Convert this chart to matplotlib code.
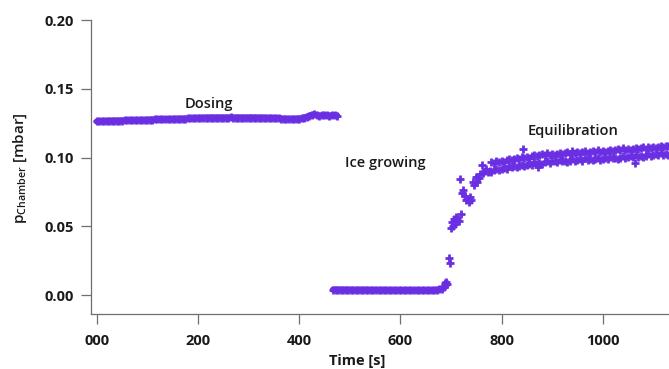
import numpy as np
import matplotlib
matplotlib.use("Agg")
import matplotlib.pyplot as plt

plt.rcParams['font.family'] = ['Open Sans', 'DejaVu Sans']
plt.rcParams['mathtext.fontset'] = 'custom'
plt.rcParams['mathtext.rm'] = 'Open Sans'

# ---- data: chamber pressure [mbar] vs time [s] ----
dose_t = np.arange(0, 476, 5)
dose_p = [0.1262, 0.1264, 0.1265, 0.1266, 0.1266, 0.1267, 0.1267, 0.1268, 0.1268, 0.1268,
          0.1269, 0.1270, 0.1270, 0.1271, 0.1271, 0.1271, 0.1272, 0.1272, 0.1273, 0.1273,
          0.1274, 0.1275, 0.1276, 0.1277, 0.1277, 0.1278, 0.1278, 0.1278, 0.1279, 0.1279,
          0.1280, 0.1281, 0.1281, 0.1282, 0.1282, 0.1283, 0.1284, 0.1285, 0.1286, 0.1287,
          0.1288, 0.1288, 0.1289, 0.1289, 0.1289, 0.1290, 0.1290, 0.1290, 0.1290, 0.1290,
          0.1290, 0.1290, 0.1290, 0.1291, 0.1290, 0.1290, 0.1290, 0.1290, 0.1290, 0.1290,
          0.1290, 0.1290, 0.1290, 0.1290, 0.1289, 0.1289, 0.1289, 0.1288, 0.1288, 0.1288,
          0.1287, 0.1286, 0.1285, 0.1283, 0.1282, 0.1281, 0.1281, 0.1281, 0.1281, 0.1282,
          0.1283, 0.1285, 0.1290, 0.1296, 0.1303, 0.1310, 0.1313, 0.1308, 0.1305, 0.1306,
          0.1307, 0.1306, 0.1305, 0.1306, 0.1308, 0.1305]

ice_t = np.arange(467, 686, 5)
ice_p = [0.0039, 0.0040, 0.0039, 0.0039, 0.0038, 0.0039, 0.0038, 0.0038, 0.0038, 0.0037,
         0.0038, 0.0037, 0.0037, 0.0038, 0.0037, 0.0037, 0.0036, 0.0037, 0.0036, 0.0036,
         0.0037, 0.0036, 0.0036, 0.0035, 0.0036, 0.0035, 0.0036, 0.0035, 0.0035, 0.0035,
         0.0036, 0.0035, 0.0034, 0.0035, 0.0034, 0.0035, 0.0034, 0.0034, 0.0035, 0.0034,
         0.0036, 0.0038, 0.0041, 0.0046]

rise_t = [686, 688, 689, 691, 692, 697, 698, 701, 703, 705, 707, 709, 711, 713, 716, 720,
          718, 724, 722, 727, 729, 732, 735, 737, 739, 743, 746, 750, 752, 755, 758, 761,
          764, 767, 770, 773, 777]
rise_p = [0.0060, 0.0085, 0.0072, 0.0097, 0.0080, 0.0270, 0.0235, 0.0485, 0.0530, 0.0505,
          0.0555, 0.0520, 0.0570, 0.0555, 0.0540, 0.0590, 0.0841, 0.0764, 0.0740, 0.0718,
          0.0690, 0.0700, 0.0676, 0.0710, 0.0690, 0.0820, 0.0800, 0.0860, 0.0825, 0.0850,
          0.0880, 0.0945, 0.0885, 0.0905, 0.0920, 0.0895, 0.0900]

eq_t = np.arange(780, 1131, 5)
eq_hi = [0.0964, 0.0959, 0.0978, 0.0969, 0.0977, 0.0970, 0.0981, 0.0991, 0.0981, 0.0990,
         0.0997, 0.0990, 0.1007, 0.0998, 0.1006, 0.0999, 0.1009, 0.1019, 0.1008, 0.1017,
         0.1023, 0.1015, 0.1031, 0.1021, 0.1028, 0.1019, 0.1028, 0.1036, 0.1024, 0.1032,
         0.1038, 0.1029, 0.1044, 0.1033, 0.1039, 0.1030, 0.1039, 0.1047, 0.1035, 0.1043,
         0.1048, 0.1039, 0.1054, 0.1043, 0.1049, 0.1040, 0.1049, 0.1057, 0.1046, 0.1054,
         0.1059, 0.1051, 0.1066, 0.1055, 0.1061, 0.1053, 0.1062, 0.1071, 0.1059, 0.1068,
         0.1073, 0.1065, 0.1080, 0.1070, 0.1076, 0.1067, 0.1076, 0.1085, 0.1073, 0.1081,
         0.1086]
eq_lo = [0.0895, 0.0908, 0.0920, 0.0910, 0.0920, 0.0927, 0.0920, 0.0937, 0.0928, 0.0935,
         0.0928, 0.0939, 0.0949, 0.0939, 0.0949, 0.0956, 0.0948, 0.0965, 0.0955, 0.0962,
         0.0954, 0.0964, 0.0973, 0.0962, 0.0971, 0.0976, 0.0967, 0.0982, 0.0971, 0.0977,
         0.0969, 0.0978, 0.0986, 0.0974, 0.0982, 0.0987, 0.0978, 0.0993, 0.0982, 0.0988,
         0.0979, 0.0988, 0.0996, 0.0984, 0.0992, 0.0997, 0.0988, 0.1003, 0.0993, 0.0999,
         0.0990, 0.1000, 0.1008, 0.0996, 0.1004, 0.1010, 0.1001, 0.1017, 0.1006, 0.1013,
         0.1004, 0.1014, 0.1022, 0.1011, 0.1019, 0.1024, 0.1015, 0.1031, 0.1020, 0.1026,
         0.1017]

stray_t = [843, 872, 1064]
stray_p = [0.1060, 0.0933, 0.0958]

x_ticks = [0, 200, 400, 600, 800, 1000]
x_tick_labels = ["000", "200", "400", "600", "800", "1000"]
y_ticks = [0.00, 0.05, 0.10, 0.15, 0.20]
y_tick_labels = ["0.00", "0.05", "0.10", "0.15", "0.20"]

phase_labels = ["Dosing", "Ice growing", "Equilibration"]
phase_pos = [(222, 0.139), (570, 0.096), (941, 0.119)]

# ---- figure ----
W, H = 669, 369
fig = plt.figure(figsize=(W / 100, H / 100), dpi=100)
ax = fig.add_axes([91 / W, (H - 314) / H, (W - 91) / W, (314 - 20) / H])

purple = '#6A2FE2'
mk = dict(marker='+', color=purple, markersize=6, markeredgewidth=2.0)

# densely sampled plateaus merge into a thick trace
for t, p in [(dose_t, dose_p), (ice_t, ice_p)]:
    ax.plot(t, p, linestyle='-', linewidth=4.5, solid_capstyle='round', **mk)
# scattered samples during growth and equilibration
for t, p in [(rise_t, rise_p), (eq_t, eq_hi), (eq_t, eq_lo), (stray_t, stray_p)]:
    ax.plot(t, p, linestyle='none', **mk)

ax.set_xlim(-11.3, 1131)
ax.set_ylim(-0.0138, 0.20)

for s in ['top', 'right']:
    ax.spines[s].set_visible(False)
axis_gray = '#6f6f6f'
for s in ['left', 'bottom']:
    ax.spines[s].set_color(axis_gray)
    ax.spines[s].set_linewidth(0.9)

ax.set_xticks(x_ticks)
ax.set_xticklabels(x_tick_labels)
ax.set_yticks(y_ticks)
ax.set_yticklabels(y_tick_labels)
ax.tick_params(axis='both', direction='out', length=7.5, width=0.9,
               color=axis_gray, labelsize=10.5, labelcolor='#1a1a1a')
ax.tick_params(axis='x', pad=7)
ax.tick_params(axis='y', pad=5)
for lab in ax.get_xticklabels() + ax.get_yticklabels():
    lab.set_fontweight('bold')

for txt, (x, y) in zip(phase_labels, phase_pos):
    ax.text(x, y, txt, ha='center', va='center', fontsize=10.5,
            fontweight='semibold', color='#1a1a1a')

fig.text(357 / W, 1 - 361 / H, "Time [s]", ha='center', va='center',
         fontsize=10.5, fontweight='bold', color='#1a1a1a')
fig.text(20 / W, 1 - 168 / H, r"$\mathregular{p_{Chamber}}$ [mbar]",
         rotation=90, ha='center', va='center', fontsize=11,
         fontweight='semibold', color='#1a1a1a')

fig.savefig("out.png", dpi=100)
